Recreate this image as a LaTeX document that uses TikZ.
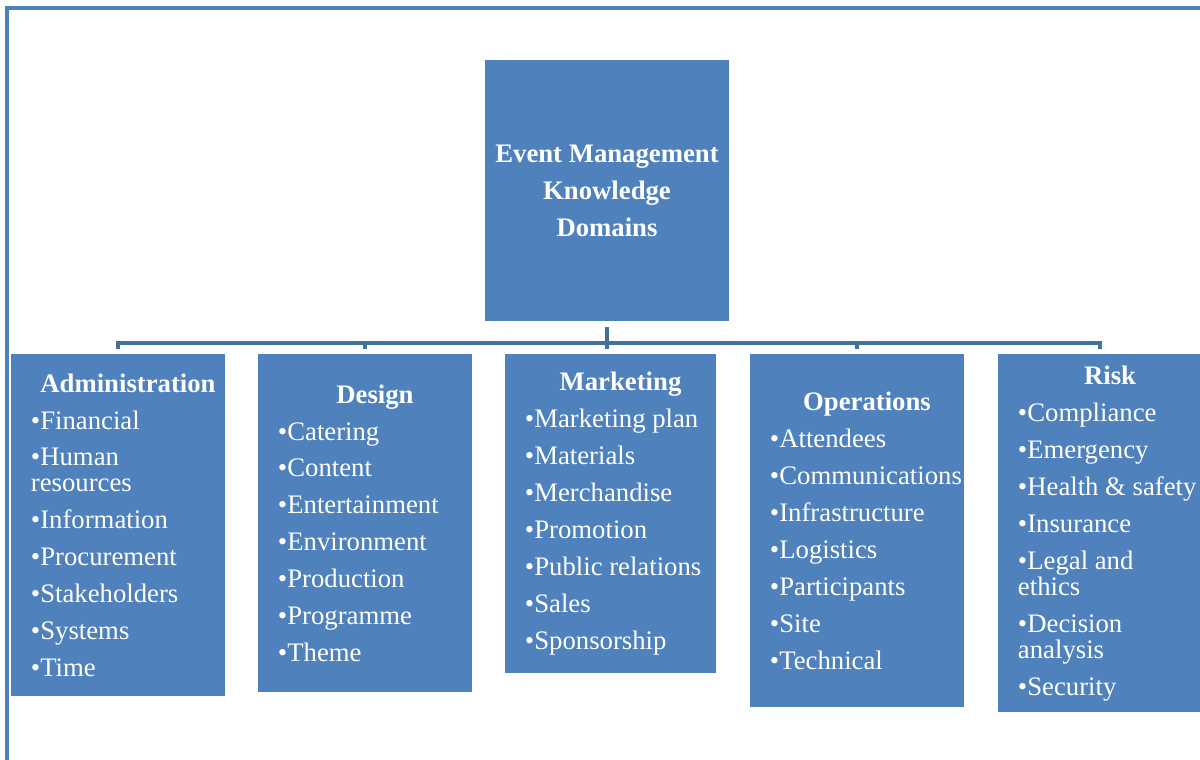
\documentclass[tikz,border=0pt]{standalone}
\usepackage{fontspec}
\setmainfont{Liberation Serif}
\usepackage{xcolor}
\usepackage{tikz}
\definecolor{boxblue}{HTML}{4F81BD}
\definecolor{linkblue}{HTML}{41719C}
\newcommand{\kfont}{\fontsize{19}{18.5}\selectfont\lineskiplimit=-5pt\relax\hyphenpenalty=10000\relax}

\begin{document}
\begin{tikzpicture}[x=0.025cm, y=-0.025cm,
    kbox/.style={fill=boxblue, text=white, anchor=north, align=flush left, inner xsep=0.5cm, inner ysep=0pt, font=\kfont},
    link/.style={draw=linkblue, line width=3.2pt}]
\useasboundingbox (0,0) rectangle (1200,760);
\draw[boxblue, line width=2.2pt] (7,760) -- (7,8) -- (1200,8);

\node[fill=boxblue, text=white, align=center, minimum width=6.075cm, minimum height=6.525cm, font=\bfseries\fontsize{19}{26.3}\selectfont] (top) at (607,190.5) {Event Management\\Knowledge\\Domains};

\node[kbox, text width=4.35cm, minimum width=5.3cm, minimum height=8.55cm] (adm) at (118,354) {\makebox[\linewidth]{\hspace{0.5cm}\textbf{Administration}}\\[7.8pt]
    •Financial\\[7.8pt] •Human\\resources\\[7.8pt] •Information\\[7.8pt] •Procurement\\[7.8pt] •Stakeholders\\[7.8pt] •Systems\\[7.8pt] •Time};
\node[kbox, text width=4.35cm, minimum width=5.35cm, minimum height=8.45cm] (des) at (365,354) {\makebox[\linewidth]{\hspace{0.5cm}\textbf{Design}}\\[7.8pt]
    •Catering\\[7.8pt] •Content\\[7.8pt] •Entertainment\\[7.8pt] •Environment\\[7.8pt] •Production\\[7.8pt] •Programme\\[7.8pt] •Theme};
\node[kbox, text width=4.275cm, minimum width=5.275cm, minimum height=7.975cm] (mkt) at (610.5,354) {\makebox[\linewidth]{\hspace{0.5cm}\textbf{Marketing}}\\[7.8pt]
    \mbox{•Marketing plan}\\[7.8pt] •Materials\\[7.8pt] •Merchandise\\[7.8pt] •Promotion\\[7.8pt] \mbox{•Public relations}\\[7.8pt] •Sales\\[7.8pt] •Sponsorship};
\node[kbox, text width=4.35cm, minimum width=5.35cm, minimum height=8.825cm] (ops) at (857,354) {\makebox[\linewidth]{\hspace{0.5cm}\textbf{Operations}}\\[7.8pt]
    •Attendees\\[7.8pt] \mbox{•Communications}\\[7.8pt] •Infrastructure\\[7.8pt] •Logistics\\[7.8pt] •Participants\\[7.8pt] •Site\\[7.8pt] •Technical};
\node[kbox, text width=4.1cm, minimum width=5.1cm, minimum height=8.95cm] (risk) at (1100,354) {\makebox[\linewidth]{\hspace{0.5cm}\textbf{Risk}}\\[7.8pt]
    •Compliance\\[7.8pt] •Emergency\\[7.8pt] \mbox{•Health \& safety}\\[7.8pt] •Insurance\\[7.8pt] •Legal and\\ethics\\[7.8pt] •Decision\\analysis\\[7.8pt] •Security};

\coordinate (bus) at (607,343);
\draw[link, shorten <=4.3pt, shorten >=3.5pt] (top.south) -- (top.south |- mkt.north);
\draw[link, shorten <=3.5pt, shorten >=3.5pt] (adm.north) |- (bus) -| (risk.north);
\draw[link, shorten >=3.5pt] (bus -| des.north) -- (des.north);
\draw[link, shorten >=3.5pt] (bus -| ops.north) -- (ops.north);
\end{tikzpicture}
\end{document}
